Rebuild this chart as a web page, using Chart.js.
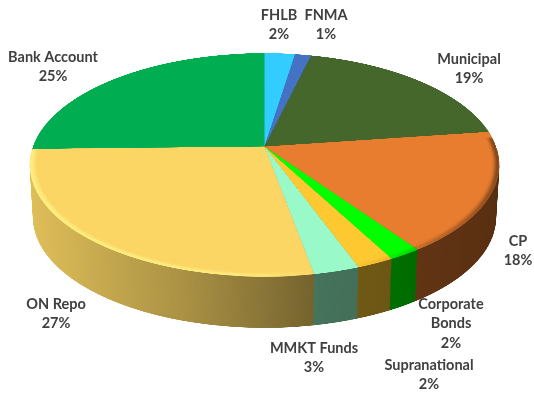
<!DOCTYPE html>
<html>
<head>
<meta charset="utf-8">
<title>Portfolio allocation</title>
<style>
    html, body { margin: 0; padding: 0; background: #fff; }
    canvas { display: block; }
</style>
<script src="https://cdn.jsdelivr.net/npm/chart.js@4"></script>
</head>
<body>
<canvas id="pieCanvas" width="534" height="396"></canvas>
<script>
const categories = ['FHLB', 'FNMA', 'Municipal', 'CP', 'Corporate Bonds', 'Supranational', 'MMKT Funds', 'ON Repo', 'Bank Account'];
const shares = [2.45, 1.3, 19, 17.5, 1.9, 2.2, 2.7, 27.49, 25.3];
const sliceColors = ['#33ccff', '#4472c4', '#46672b', '#e87d30', '#00ff00', '#fdc830', '#99f9c8', '#fbd665', '#00ad50'];

// where the labels sit, one [x, y of first line] per category
const labelAnchors = [[279, 15], [326, 15], [469, 59], [518, 241], [451, 304], [429, 365], [314, 348], [56, 304], [53, 57]];
const labelBreaks = { 'Corporate Bonds': ['Corporate', 'Bonds'] };

// perspective of the tilted disc, picture pixels
const CX = 264.5, CY = 146.5;
const TILT = 0.165, HALF_W = 231.6, HALF_H = 108.7;
const DEPTH = 53, SHRINK = 0.014;
const FLAT = 1024;

// side wall brightness from left to right of the pie
const SIDE_SHADE = [[0, 0.9], [0.12, 0.84], [0.35, 0.68], [0.6, 0.46], [0.75, 0.43], [1, 0.38]];

function shadeStop(hex, f) {
    const n = parseInt(hex.slice(1), 16);
    const r = Math.round((n >> 16 & 255) * f), g = Math.round((n >> 8 & 255) * f), b = Math.round((n & 255) * f);
    return `rgb(${r},${g},${b})`;
}

function newFlat(arc) {
    const c = document.createElement('canvas');
    c.width = c.height = FLAT;
    const ctx = c.getContext('2d');
    const z = FLAT / 2 / arc.outerRadius;
    ctx.setTransform(z, 0, 0, z, FLAT / 2 - arc.x * z, FLAT / 2 - arc.y * z);
    return { c, ctx };
}

// row by row so the near half of the disc comes out bigger than the far half
function drawProjected(ctx, src, offset, scale) {
    const yTop = Math.floor(CY + offset - HALF_H * scale / (1 + TILT));
    const yEnd = Math.ceil(CY + offset + HALF_H * scale / (1 - TILT));
    const vAt = y => {
        const t = (y - CY - offset) / (HALF_H * scale);
        return t / (1 + TILT * t);
    };
    for (let y = yTop; y < yEnd; y++) {
        const v0 = Math.max(vAt(y), -1), v1 = Math.min(vAt(y + 1), 1);
        if (v1 <= v0) continue;
        const w = 1 - TILT * (v0 + v1) / 2;
        const half = HALF_W * scale / w;
        ctx.drawImage(src, 0, (v0 + 1) / 2 * FLAT, FLAT, (v1 - v0) / 2 * FLAT, CX - half, y, half * 2, 1);
    }
}

const pie3d = {
    id: 'pie3d',
    beforeDatasetsDraw(chart) {
        const arcs = chart.getDatasetMeta(0).data;
        const { x, y, outerRadius: r } = arcs[0];

        // side wall
        const side = newFlat(arcs[0]);
        arcs.forEach((arc, i) => {
            const keep = arc.options;
            const g = side.ctx.createLinearGradient(x - r, 0, x + r, 0);
            SIDE_SHADE.forEach(([at, f]) => g.addColorStop(at, shadeStop(sliceColors[i], f)));
            arc.options = Object.create(keep);
            arc.options.backgroundColor = g;
            arc.draw(side.ctx);
            arc.options = keep;
        });
        for (let d = DEPTH; d >= 1; d--) {
            drawProjected(chart.ctx, side.c, d, 1 - SHRINK * d / DEPTH);
        }

        // top face with the bevel along the front rim
        const top = newFlat(arcs[0]);
        arcs.forEach(arc => arc.draw(top.ctx));
        const rim = top.ctx.createLinearGradient(x - r, 0, x + r, 0);
        rim.addColorStop(0, 'rgba(255,255,150,0.8)');
        rim.addColorStop(0.45, 'rgba(255,255,150,0.7)');
        rim.addColorStop(0.6, 'rgba(255,255,150,0)');
        rim.addColorStop(0.66, 'rgba(0,0,0,0)');
        rim.addColorStop(0.85, 'rgba(0,0,0,0.3)');
        rim.addColorStop(1, 'rgba(0,0,0,0.6)');
        top.ctx.save();
        top.ctx.beginPath();
        top.ctx.arc(x, y, r, 0, Math.PI * 2);
        top.ctx.clip();
        top.ctx.filter = 'blur(4px)';
        top.ctx.strokeStyle = rim;
        top.ctx.lineWidth = r * 0.018;
        top.ctx.beginPath();
        top.ctx.arc(x, y, r * 0.993, -0.08, Math.PI - 0.03);
        top.ctx.stroke();
        top.ctx.restore();
        drawProjected(chart.ctx, top.c, 0, 1);
        return false;
    },
    afterDraw(chart) {
        const ctx = chart.ctx;
        ctx.save();
        ctx.font = 'bold 14.5px Lato, "Noto Sans", sans-serif';
        ctx.fillStyle = '#404040';
        ctx.textAlign = 'center';
        ctx.textBaseline = 'middle';
        chart.data.labels.forEach((name, i) => {
            const lines = (labelBreaks[name] || [name]).concat(Math.round(shares[i]) + '%');
            lines.forEach((line, n) => {
                ctx.fillText(line, labelAnchors[i][0], labelAnchors[i][1] + n * 19.5);
            });
        });
        ctx.restore();
    }
};

new Chart(document.getElementById('pieCanvas'), {
    type: 'pie',
    data: {
        labels: categories,
        datasets: [{
            data: shares,
            backgroundColor: sliceColors,
            borderWidth: 0
        }]
    },
    options: {
        responsive: false,
        animation: false,
        plugins: {
            legend: { display: false },
            tooltip: { enabled: false }
        }
    },
    plugins: [pie3d]
});
</script>
</body>
</html>
